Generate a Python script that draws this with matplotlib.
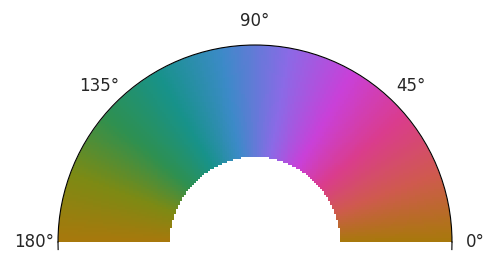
import numpy as np
import matplotlib
matplotlib.use('Agg')
import matplotlib.pyplot as plt
from matplotlib.colors import LinearSegmentedColormap

# colour wheel: colour = angle, half disc with a hole
tick_degrees = [0, 45, 90, 135, 180]
tick_labels = ['0°', '45°', '90°', '135°', '180°']
inner_radius = 0.43

# cyclic phase-like colours from 0° to 180°
wheel_colors = ['#A8780C', '#CF5A4E', '#DA3C8C', '#C940D8', '#8A6AE6',
                '#3C8AC8', '#17928A', '#2E9050', '#7C8A14', '#A8780C']
cmap = LinearSegmentedColormap.from_list('phase_like', wheel_colors)

# cartesian grid (gives the stepped inner edge)
xe = np.linspace(-1.02, 1.02, 205)
ye = np.linspace(0, 1.02, 103)
XE, YE = np.meshgrid(xe, ye)
theta_e = np.arctan2(YE, XE)
r_e = np.hypot(XE, YE)

xc = 0.5 * (xe[:-1] + xe[1:])
yc = 0.5 * (ye[:-1] + ye[1:])
XC, YC = np.meshgrid(xc, yc)
angle = np.arctan2(YC, XC)
values = np.ma.masked_where(np.hypot(XC, YC) < inner_radius, angle)

fig = plt.figure(figsize=(4.86, 2.57), dpi=100)
# polar wedge is drawn at half the box size, so the box is doubled
ax = fig.add_axes([-139 / 486, -83.5 / 257, 788 / 486, 394 / 257], projection='polar')
ax.pcolormesh(theta_e, r_e, values, cmap=cmap, vmin=0, vmax=np.pi,
              shading='flat')
ax.set_thetamin(tick_degrees[0])
ax.set_thetamax(tick_degrees[-1])
ax.set_rlim(0, 1)
ax.set_thetagrids(tick_degrees, tick_labels, fontsize=12, color='#262626')
ax.tick_params(axis='x', length=0, pad=10)
ax.set_yticks([])
ax.grid(False)
for side in ['start', 'end', 'inner']:
    ax.spines[side].set_color('none')

# short tangential tick marks at both ends of the arc
ext = np.deg2rad(2.2)
lo, hi = np.deg2rad(tick_degrees[0]), np.deg2rad(tick_degrees[-1])
ax.plot([lo, lo - ext], [1, 1], color='black', lw=0.8, clip_on=False)
ax.plot([hi, hi + ext], [1, 1], color='black', lw=0.8, clip_on=False)

fig.savefig('out.png', dpi=100)
